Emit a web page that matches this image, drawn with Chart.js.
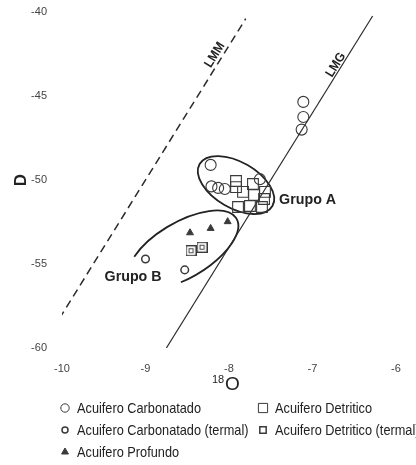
<!DOCTYPE html>
<html><head><meta charset="utf-8">
<script src="https://cdn.jsdelivr.net/npm/chart.js@4.4.1/dist/chart.umd.min.js"></script>
<style>html,body{margin:0;padding:0;background:#fff;}#wrap{width:416px;height:465px;position:relative;}</style>
</head><body><div id="wrap"><canvas id="c" width="416" height="465"></canvas></div>
<script>
// ---- data (δ18O, δD) ----
const xTicks = [-10, -9, -8, -7, -6];
const yTicks = [-40, -45, -50, -55, -60];
const carbonatadoX = [-8.22, -8.21, -8.13, -8.05, -7.63, -7.11, -7.11, -7.13];
const carbonatadoY = [-49.1, -50.38, -50.47, -50.54, -49.95, -45.35, -46.25, -47.0];
const carbTermalX = [-9.00, -8.53];
const carbTermalY = [-54.7, -55.35];
const detriticoX = [-7.916, -7.916, -7.832, -7.713, -7.70, -7.569, -7.58, -7.892, -7.749, -7.605];
const detriticoY = [-50.06, -50.42, -50.71, -50.24, -50.89, -50.71, -51.13, -51.61, -51.55, -51.61];
const detrTermalX = [-8.455, -8.323];
const detrTermalY = [-54.21, -54.0];
const profundoX = [-8.467, -8.22, -8.016];
const profundoY = [-53.14, -52.88, -52.48];
const lmmX = [-10.03, -7.80];   // LMM: δD = 8·δ18O + 22
const lmmY = [-58.24, -40.40];
const lmgX = [-8.75, -6.28];    // LMG: δD = 8·δ18O + 10
const lmgY = [-60.0, -40.24];
const groupNames = ['Grupo A', 'Grupo B'];
const groupLabelX = [-7.40, -9.49];
const groupLabelY = [-51.19, -55.77];
// ellipses: centre, end of major semi-axis, end of minor semi-axis (data units)
const ellipseA = {cx: -7.916, cy: -50.30, ax: -7.48, ay: -51.55, bx: -7.778, by: -49.11, start: 0, end: 360};
const ellipseB = {cx: -8.551, cy: -54.17, ax: -7.911, ay: -52.30, bx: -8.381, by: -55.60, start: -137, end: 107};
const seriesNames = ['Acuifero Carbonatado', 'Acuifero Carbonatado (termal)', 'Acuifero Detritico', 'Acuifero Detritico (termal)', 'Acuifero Profundo'];

const INK = '#3a3a3a';
const FONT = "'Liberation Sans Narrow', 'Liberation Sans', Arial, sans-serif";

function pts(xs, ys) { return xs.map((x, i) => ({x, y: ys[i]})); }

// termal square marker: square with small inner square
function termalSquare(size) {
  const c = document.createElement('canvas');
  c.width = size; c.height = size;
  const g = c.getContext('2d');
  g.strokeStyle = INK; g.lineWidth = 1.2;
  g.strokeRect(0.6, 0.6, size - 1.2, size - 1.2);
  g.lineWidth = 0.9;
  g.strokeRect(3.5, 3.5, size - 7, size - 7);
  return c;
}
const tsq = termalSquare(11);

const markerStyles = [
  {pointStyle: 'circle', radius: 5.5, borderWidth: 1.1, fill: 'rgba(0,0,0,0)'},
  {pointStyle: 'circle', radius: 3.8, borderWidth: 1.5, fill: 'rgba(0,0,0,0)'},
  {pointStyle: 'rect', radius: 7.6, borderWidth: 1.1, fill: 'rgba(0,0,0,0)'},
  {pointStyle: tsq, radius: 5.5, borderWidth: 1, fill: 'rgba(0,0,0,0)'},
  {pointStyle: 'triangle', radius: 4, borderWidth: 1, fill: INK}
];
const seriesData = [pts(carbonatadoX, carbonatadoY), pts(carbTermalX, carbTermalY), pts(detriticoX, detriticoY), pts(detrTermalX, detrTermalY), pts(profundoX, profundoY)];

const datasets = seriesData.map((d, i) => ({
  type: 'scatter', label: seriesNames[i], data: d,
  pointStyle: markerStyles[i].pointStyle, pointRadius: markerStyles[i].radius,
  pointBorderWidth: markerStyles[i].borderWidth, pointBorderColor: INK,
  pointBackgroundColor: markerStyles[i].fill, order: 1
}));
datasets.push({type: 'line', label: 'LMM', data: pts(lmmX, lmmY), showLine: true, pointRadius: 0,
  borderColor: '#2a2a2a', borderWidth: 1.5, borderDash: [8, 5], fill: false, order: 2});
datasets.push({type: 'line', label: 'LMG', data: pts(lmgX, lmgY), showLine: true, pointRadius: 0,
  borderColor: '#2a2a2a', borderWidth: 1.2, fill: false, order: 2});

// draw text horizontally condensed (reference uses a narrow face)
function narrowText(ctx, txt, px, py, sx) {
  ctx.save();
  ctx.translate(px, py);
  ctx.scale(sx, 1);
  ctx.fillText(txt, 0, 0);
  ctx.restore();
}

const decorPlugin = {
  id: 'decor',
  beforeDatasetsDraw(chart) {
    const {ctx, scales: {x, y}} = chart;
    ctx.save();
    ctx.strokeStyle = '#222'; ctx.lineWidth = 1.8;
    [ellipseA, ellipseB].forEach(e => {
      const cx = x.getPixelForValue(e.cx), cy = y.getPixelForValue(e.cy);
      const axp = x.getPixelForValue(e.ax), ayp = y.getPixelForValue(e.ay);
      const bxp = x.getPixelForValue(e.bx), byp = y.getPixelForValue(e.by);
      const rx = Math.hypot(axp - cx, ayp - cy), ry = Math.hypot(bxp - cx, byp - cy);
      const rot = Math.atan2(ayp - cy, axp - cx);
      ctx.beginPath();
      ctx.ellipse(cx, cy, rx, ry, rot, e.start * Math.PI / 180, e.end * Math.PI / 180);
      ctx.stroke();
    });
    ctx.restore();
  },
  afterDraw(chart) {
    const {ctx, scales: {x, y}} = chart;
    ctx.save();
    // group labels
    ctx.fillStyle = '#222';
    ctx.font = "bold 15px " + FONT;
    ctx.textAlign = 'left'; ctx.textBaseline = 'middle';
    groupNames.forEach((n, i) => narrowText(ctx, n, x.getPixelForValue(groupLabelX[i]), y.getPixelForValue(groupLabelY[i]), 0.95));
    // line labels, rotated along their lines
    const drawRot = (txt, lx, ly, xs, ys) => {
      const p0 = {x: x.getPixelForValue(xs[0]), y: y.getPixelForValue(ys[0])};
      const p1 = {x: x.getPixelForValue(xs[1]), y: y.getPixelForValue(ys[1])};
      const ang = Math.atan2(p1.y - p0.y, p1.x - p0.x);
      ctx.save();
      ctx.translate(x.getPixelForValue(lx), y.getPixelForValue(ly));
      ctx.rotate(ang);
      ctx.font = "bold 13px " + FONT;
      ctx.textAlign = 'center'; ctx.textBaseline = 'middle';
      ctx.scale(0.92, 1);
      ctx.fillText(txt, 0, 0);
      ctx.restore();
    };
    drawRot('LMM', -8.17, -42.56, lmmX, lmmY);
    drawRot('LMG', -6.72, -43.15, lmgX, lmgY);
    // axis titles
    ctx.fillStyle = '#222';
    ctx.textBaseline = 'alphabetic'; ctx.textAlign = 'left';
    ctx.font = "11px " + FONT;
    ctx.fillText('18', 212, 383);
    ctx.font = "19px " + FONT;
    ctx.fillText('O', 225, 390);
    ctx.save();
    ctx.translate(26, 180);
    ctx.rotate(-Math.PI / 2);
    ctx.font = "bold 17px " + FONT;
    ctx.textAlign = 'center';
    ctx.fillText('D', 0, 0);
    ctx.restore();
    // legend
    const legendPos = [[65, 408], [65, 430], [263, 408], [263, 430], [65, 452]];
    const legendRadius = [4.2, 3, 6.5, 4.5, 4];
    ctx.font = "15px " + FONT;
    ctx.textBaseline = 'middle'; ctx.textAlign = 'left';
    seriesNames.forEach((n, i) => {
      const [lx, ly] = legendPos[i];
      ctx.strokeStyle = INK; ctx.fillStyle = markerStyles[i].fill;
      ctx.lineWidth = (i === 1 || i === 3) ? 1.5 : 1;
      let st = markerStyles[i].pointStyle;
      if (i === 3) st = 'rect';
      Chart.helpers.drawPoint(ctx, {pointStyle: st, radius: legendRadius[i], rotation: 0, borderWidth: ctx.lineWidth}, lx, ly);
      ctx.fillStyle = '#222';
      narrowText(ctx, n, lx + 12, ly + 1, 0.85);
    });
    ctx.restore();
  }
};

new Chart(document.getElementById('c'), {
  type: 'scatter',
  data: {datasets},
  options: {
    responsive: false, animation: false,
    layout: {padding: {top: 12, right: 20, bottom: 87, left: 0}},
    plugins: {legend: {display: false}, tooltip: {enabled: false}},
    scales: {
      x: {
        type: 'linear', min: -10, max: -6,
        grid: {display: false, drawTicks: false}, border: {display: false},
        afterBuildTicks: s => { s.ticks = xTicks.map(v => ({value: v})); },
        ticks: {padding: 14, color: '#444', font: {family: FONT, size: 11}, callback: v => String(v)},
        afterFit: s => { s.height = 30; s.paddingLeft = 0; s.paddingRight = 0; }
      },
      y: {
        type: 'linear', min: -60, max: -40,
        grid: {display: false, drawTicks: false}, border: {display: false},
        afterBuildTicks: s => { s.ticks = yTicks.map(v => ({value: v})); },
        ticks: {padding: 15, color: '#444', font: {family: FONT, size: 11}, callback: v => String(v)},
        afterFit: s => { s.width = 62; s.paddingTop = 0; s.paddingBottom = 0; }
      }
    }
  },
  plugins: [decorPlugin]
});
</script>
</body></html>
